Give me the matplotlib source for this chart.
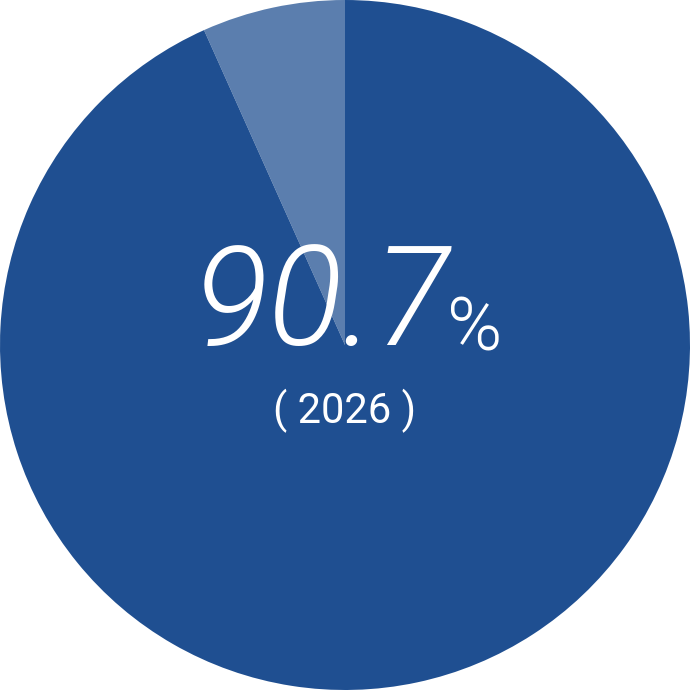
import matplotlib.pyplot as plt

# shares
labels = ["other", "main"]
shares = [6.7, 93.3]
colors = ["#5b7eae", "#1f4f91"]

value_text = "90.7"
year_text = "( 2026 )"

fig = plt.figure(figsize=(6.9, 6.9), dpi=100)
ax = fig.add_axes([0, 0, 1, 1])

ax.pie(shares, colors=colors, startangle=90, counterclock=True,
       radius=1, wedgeprops={"linewidth": 0})

ax.text(-0.44, 0.0, value_text, color="white", fontsize=100,
        family="Roboto", weight=300, style="italic", ha="left", va="baseline")
ax.text(0.295, -0.015, "%", color="white", fontsize=54,
        family="Roboto", weight=300, ha="left", va="baseline")
ax.text(0.0, -0.226, year_text, color="white", fontsize=30,
        family="Roboto", ha="center", va="baseline")

ax.set_xlim(-1, 1)
ax.set_ylim(-1, 1)
ax.set_aspect("equal")
ax.axis("off")

plt.savefig("out.png", dpi=100, transparent=False, facecolor="white")
